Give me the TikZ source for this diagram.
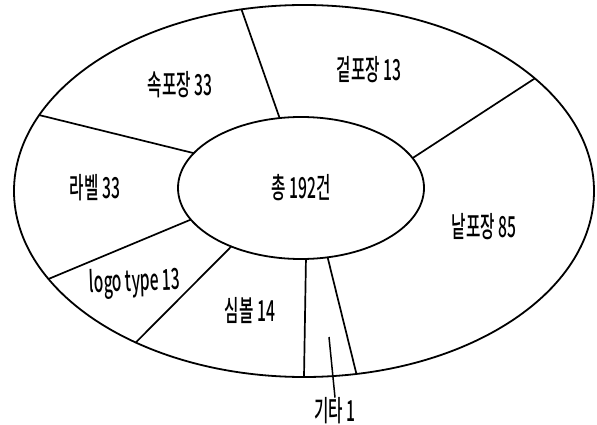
\documentclass[tikz,border=0pt]{standalone}
\usepackage{fontspec}
\newfontfamily\kr[FakeStretch=0.54, UprightFont=* Medium]{Noto Sans CJK KR}
\usetikzlibrary{shapes.geometric}
\tikzset{
  ring/.style={draw, ellipse, line width=1.8pt, inner sep=0pt, outer sep=0pt},
  divider/.style={line width=1.7pt},
  lbl/.style={font=\kr\fontsize{29}{32}\selectfont, inner sep=2pt}
}
\begin{document}
\begin{tikzpicture}[x=1pt,y=-1pt]
\useasboundingbox (0,0) rectangle (597,425);
\node[ring, minimum width=580pt, minimum height=372pt] (outer) at (304,191) {};
\node[ring, minimum width=246pt, minimum height=142pt, lbl] (inner) at (301,188) {총 192건};
% dividers
\draw[divider] (inner.107.4) -- (outer.109.5);
\draw[divider] (inner.162.2) -- (outer.164.3);
\draw[divider] (inner.15.3) -- (outer.26.8);
\draw[divider] (inner.196.4) -- (outer.199.7);
\draw[divider] (inner.220.5) -- (outer.222.5);
\draw[divider] (inner.274.8) -- (outer.270);
\draw[divider] (inner.291.8) -- (outer.286.8);
% labels
\node[lbl] (sok) at (180,85) {속포장 33};
\node[lbl] (geot) at (369,70) {겉포장 13};
\node[lbl] (label) at (95,188) {라벨 33};
\node[lbl] (nat) at (484,227) {낱포장 85};
\node[lbl, rotate=2] (logo) at (135,283) {logo type 13};
\node[lbl] (symbol) at (250,311) {심볼 14};
\node[lbl] (gita) at (335,411) {기타 1};
\coordinate (gtop) at (329,337);
\draw[line width=1.5pt] (gtop) -- ([yshift=-2pt]gita.north);
\end{tikzpicture}
\end{document}
